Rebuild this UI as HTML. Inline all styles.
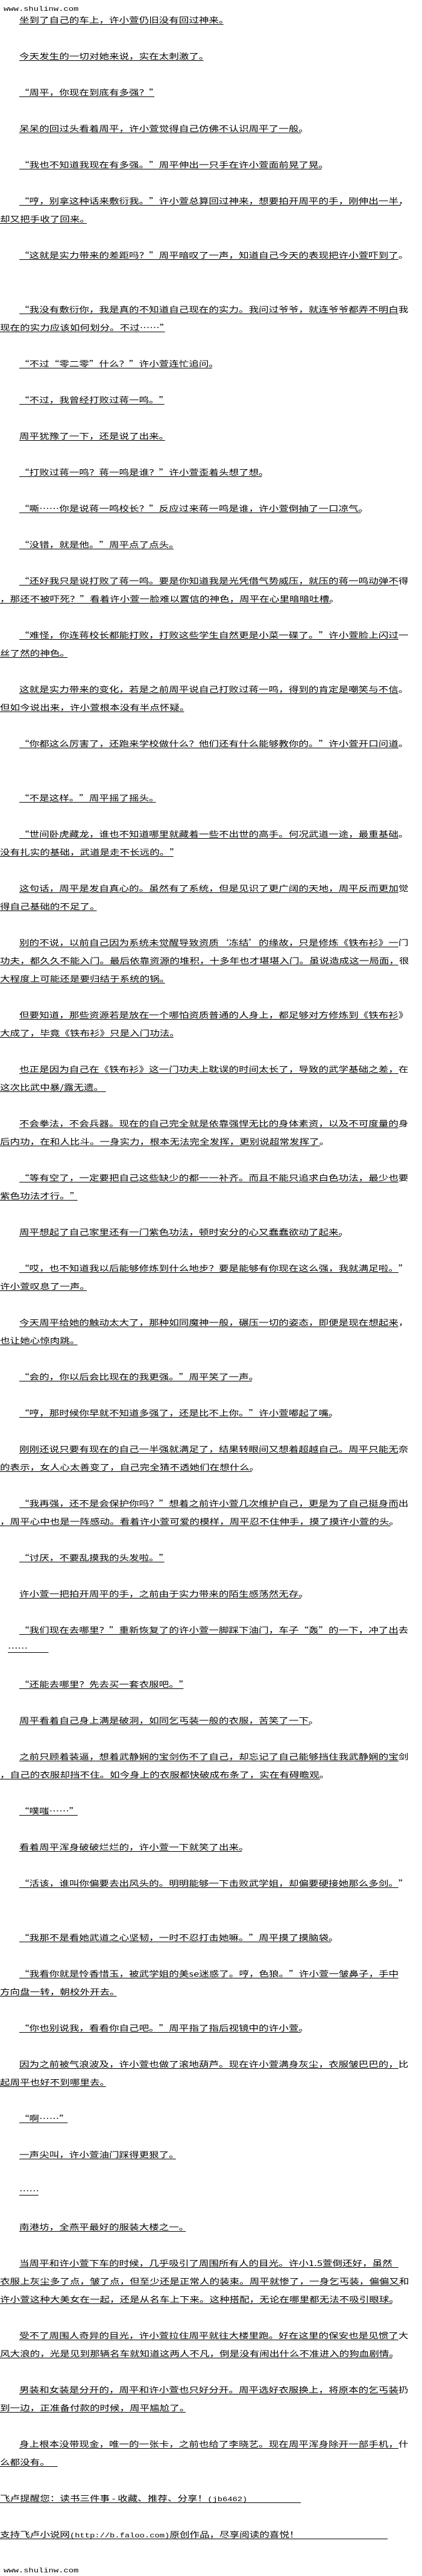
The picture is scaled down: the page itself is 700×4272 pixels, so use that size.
<!DOCTYPE html>
<html lang="zh-CN">
<head>
<meta charset="utf-8">
<title>page</title>
<style>
html,body{margin:0;padding:0;background:#fff}
body{position:relative;width:700px;height:4272px;overflow:hidden;color:#000;font-family:"Noto Sans CJK SC","WenQuanYi Zen Hei",sans-serif}
.l{position:absolute;left:0;top:calc(24px + 30px*var(--n));height:20px;line-height:18px;font-size:13px;white-space:pre;text-spacing-trim:space-all;font-kerning:none;transform:scaleX(1.273);transform-origin:0 0}
.i{left:32px}
.l::after{content:"";position:absolute;left:0;top:16px;height:1px;width:calc(var(--w)/1.273);background:#000}
.h{position:absolute;left:6px;font:11px/16px "Liberation Mono",monospace;white-space:pre;transform:scaleX(1.255);transform-origin:0 0}
.m{font-family:"Liberation Mono",monospace;font-size:10.83px}
</style>
</head>
<body>
<div class="h" style="top:8px">www.shulinw.com</div>
<div class="l i" style="--n:0;--w:338px">坐到了自己的车上，许小萱仍旧没有回过神来。</div>
<div class="l i" style="--n:2;--w:305px">今天发生的一切对她来说，实在太刺激了。</div>
<div class="l i" style="--n:4;--w:224px">“周平，你现在到底有多强？”</div>
<div class="l i" style="--n:6;--w:467px">呆呆的回过头看着周平，许小萱觉得自己仿佛不认识周平了一般。</div>
<div class="l i" style="--n:8;--w:501px">“我也不知道我现在有多强。”周平伸出一只手在许小萱面前晃了晃。</div>
<div class="l i" style="--n:10;--w:633px">“哼，别拿这种话来敷衍我。”许小萱总算回过神来，想要拍开周平的手，刚伸出一半，</div>
<div class="l" style="--n:11;--w:144px">却又把手收了回来。</div>
<div class="l i" style="--n:13;--w:629px">“这就是实力带来的差距吗？”周平暗叹了一声，知道自己今天的表现把许小萱吓到了。</div>
<div class="l i" style="--n:16;--w:629px">“我没有敷衍你，我是真的不知道自己现在的实力。我问过爷爷，就连爷爷都弄不明白我</div>
<div class="l" style="--n:17;--w:274px">现在的实力应该如何划分。不过……”</div>
<div class="l i" style="--n:19;--w:319px">“不过“零二零”什么？”许小萱连忙追问。</div>
<div class="l i" style="--n:21;--w:241px">“不过，我曾经打败过蒋一鸣。”</div>
<div class="l i" style="--n:23;--w:242px">周平犹豫了一下，还是说了出来。</div>
<div class="l i" style="--n:25;--w:402px">“打败过蒋一鸣？蒋一鸣是谁？”许小萱歪着头想了想。</div>
<div class="l i" style="--n:27;--w:566px">“嘶……你是说蒋一鸣校长？”反应过来蒋一鸣是谁，许小萱倒抽了一口凉气。</div>
<div class="l i" style="--n:29;--w:256px">“没错，就是他。”周平点了点头。</div>
<div class="l i" style="--n:31;--w:629px">“还好我只是说打败了蒋一鸣。要是你知道我是光凭借气势威压，就压的蒋一鸣动弹不得</div>
<div class="l" style="--n:32;--w:549px">，那还不被吓死？”看着许小萱一脸难以置信的神色，周平在心里暗暗吐槽。</div>
<div class="l i" style="--n:34;--w:629px">“难怪，你连蒋校长都能打败，打败这些学生自然更是小菜一碟了。”许小萱脸上闪过一</div>
<div class="l" style="--n:35;--w:112px">丝了然的神色。</div>
<div class="l i" style="--n:37;--w:629px">这就是实力带来的变化，若是之前周平说自己打败过蒋一鸣，得到的肯定是嘲笑与不信。</div>
<div class="l" style="--n:38;--w:306px">但如今说出来，许小萱根本没有半点怀疑。</div>
<div class="l i" style="--n:40;--w:629px">“你都这么厉害了，还跑来学校做什么？他们还有什么能够教你的。”许小萱开口问道。</div>
<div class="l i" style="--n:43;--w:227px">“不是这样。”周平摇了摇头。</div>
<div class="l i" style="--n:45;--w:629px">“世间卧虎藏龙，谁也不知道哪里就藏着一些不出世的高手。何况武道一途，最重基础。</div>
<div class="l" style="--n:46;--w:288px">没有扎实的基础，武道是走不长远的。”</div>
<div class="l i" style="--n:48;--w:629px">这句话，周平是发自真心的。虽然有了系统，但是见识了更广阔的天地，周平反而更加觉</div>
<div class="l" style="--n:49;--w:160px">得自己基础的不足了。</div>
<div class="l i" style="--n:51;--w:629px">别的不说，以前自己因为系统未觉醒导致资质‘冻结’的缘故，只是修炼《铁布衫》一门</div>
<div class="l" style="--n:52;--w:661px">功夫，都久久不能入门。最后依靠资源的堆积，十多年也才堪堪入门。虽说造成这一局面，很</div>
<div class="l" style="--n:53;--w:274px">大程度上可能还是要归结于系统的锅。</div>
<div class="l i" style="--n:55;--w:629px">但要知道，那些资源若是放在一个哪怕资质普通的人身上，都足够对方修炼到《铁布衫》</div>
<div class="l" style="--n:56;--w:288px">大成了，毕竟《铁布衫》只是入门功法。</div>
<div class="l i" style="--n:58;--w:629px">也正是因为自己在《铁布衫》这一门功夫上耽误的时间太长了，导致的武学基础之差，在</div>
<div class="l" style="--n:59;--w:176px">这次比武中暴/露无遗。</div>
<div class="l i" style="--n:61;--w:629px">不会拳法，不会兵器。现在的自己完全就是依靠强悍无比的身体素资，以及不可度量的身</div>
<div class="l" style="--n:62;--w:531px">后内功，在和人比斗。一身实力，根本无法完全发挥，更别说超常发挥了。</div>
<div class="l i" style="--n:64;--w:629px">“等有空了，一定要把自己这些缺少的都一一补齐。而且不能只追求白色功法，最少也要</div>
<div class="l" style="--n:65;--w:129px">紫色功法才行。”</div>
<div class="l i" style="--n:67;--w:533px">周平想起了自己家里还有一门紫色功法，顿时安分的心又蠢蠢欲动了起来。</div>
<div class="l i" style="--n:69;--w:629px">“哎，也不知道我以后能够修炼到什么地步？要是能够有你现在这么强，我就满足啦。”</div>
<div class="l" style="--n:70;--w:144px">许小萱叹息了一声。</div>
<div class="l i" style="--n:72;--w:629px">今天周平给她的触动太大了，那种如同魔神一般，碾压一切的姿态，即便是现在想起来，</div>
<div class="l" style="--n:73;--w:129px">也让她心惊肉跳。</div>
<div class="l i" style="--n:75;--w:386px">“会的，你以后会比现在的我更强。”周平笑了一声。</div>
<div class="l i" style="--n:77;--w:517px">“哼，那时候你早就不知道多强了，还是比不上你。”许小萱嘟起了嘴。</div>
<div class="l i" style="--n:79;--w:629px">刚刚还说只要有现在的自己一半强就满足了，结果转眼间又想着超越自己。周平只能无奈</div>
<div class="l" style="--n:80;--w:418px">的表示，女人心太善变了，自己完全猜不透她们在想什么。</div>
<div class="l i" style="--n:82;--w:629px">“我再强，还不是会保护你吗？”想着之前许小萱几次维护自己，更是为了自己挺身而出</div>
<div class="l" style="--n:83;--w:648px">，周平心中也是一阵感动。看着许小萱可爱的模样，周平忍不住伸手，摸了摸许小萱的头。</div>
<div class="l i" style="--n:85;--w:241px">“讨厌，不要乱摸我的头发啦。”</div>
<div class="l i" style="--n:87;--w:467px">许小萱一把拍开周平的手，之前由于实力带来的陌生感荡然无存。</div>
<div class="l i" style="--n:89;--w:629px">“我们现在去哪里？”重新恢复了的许小萱一脚踩下油门，车子“轰”的一下，冲了出去</div>
<div class="l" style="--n:90;--w:67px;left:13px">……</div>
<div class="l i" style="--n:92;--w:273px">“还能去哪里？先去买一套衣服吧。”</div>
<div class="l i" style="--n:94;--w:483px">周平看着自己身上满是破洞，如同乞丐装一般的衣服，苦笑了一下。</div>
<div class="l i" style="--n:96;--w:629px">之前只顾着装逼，想着武静娴的宝剑伤不了自己，却忘记了自己能够挡住我武静娴的宝剑</div>
<div class="l" style="--n:97;--w:531px">，自己的衣服却挡不住。如今身上的衣服都快破成布条了，实在有碍瞻观。</div>
<div class="l i" style="--n:99;--w:97px">“噗嗤……”</div>
<div class="l i" style="--n:101;--w:369px">看着周平浑身破破烂烂的，许小萱一下就笑了出来。</div>
<div class="l i" style="--n:103;--w:629px">“活该，谁叫你偏要去出风头的。明明能够一下击败武学姐，却偏要硬接她那么多剑。”</div>
<div class="l i" style="--n:106;--w:517px">“我那不是看她武道之心坚韧，一时不忍打击她嘛。”周平摸了摸脑袋。</div>
<div class="l i" style="--n:108;--w:629px">“我看你就是怜香惜玉，被武学姐的美se迷惑了。哼，色狼。”许小萱一皱鼻子，手中</div>
<div class="l" style="--n:109;--w:193px">方向盘一转，朝校外开去。</div>
<div class="l i" style="--n:111;--w:467px">“你也别说我，看看你自己吧。”周平指了指后视镜中的许小萱。</div>
<div class="l i" style="--n:113;--w:629px">因为之前被气浪波及，许小萱也做了滚地葫芦。现在许小萱满身灰尘，衣服皱巴巴的，比</div>
<div class="l" style="--n:114;--w:176px">起周平也好不到哪里去。</div>
<div class="l i" style="--n:116;--w:80px">“啊……”</div>
<div class="l i" style="--n:118;--w:260px">一声尖叫，许小萱油门踩得更狠了。</div>
<div class="l i" style="--n:120;--w:32px">……</div>
<div class="l i" style="--n:122;--w:276px">南港坊，全燕平最好的服装大楼之一。</div>
<div class="l i" style="--n:124;--w:629px">当周平和许小萱下车的时候，几乎吸引了周围所有人的目光。许小1.5萱倒还好，虽然</div>
<div class="l" style="--n:125;--w:665px">衣服上灰尘多了点，皱了点，但至少还是正常人的装束。周平就惨了，一身乞丐装，偏偏又和</div>
<div class="l" style="--n:126;--w:650px">许小萱这种大美女在一起，还是从名车上下来。这种搭配，无论在哪里都无法不吸引眼球。</div>
<div class="l i" style="--n:128;--w:629px">受不了周围人奇异的目光，许小萱拉住周平就往大楼里跑。好在这里的保安也是见惯了大</div>
<div class="l" style="--n:129;--w:650px">风大浪的，光是见到那辆名车就知道这两人不凡，倒是没有闹出什么不准进入的狗血剧情。</div>
<div class="l i" style="--n:131;--w:629px">男装和女装是分开的，周平和许小萱也只好分开。周平选好衣服换上，将原本的乞丐装扔</div>
<div class="l" style="--n:132;--w:308px">到一边，正准备付款的时候，周平尴尬了。</div>
<div class="l i" style="--n:134;--w:629px">身上根本没带现金，唯一的一张卡，之前也给了李晓艺。现在周平浑身除开一部手机，什</div>
<div class="l" style="--n:135;--w:95px">么都没有。</div>
<div class="l" style="--n:137;--w:499px">飞卢提醒您：读书三件事 - 收藏、推荐、分享！<span class="m">(jb6462)</span></div>
<div class="l" style="--n:139;--w:643px">支持飞卢小说网<span class="m">(http://b.faloo.com)</span>原创作品，尽享阅读的喜悦！</div>
<div class="h" style="top:4256px">www.shulinw.com</div>
</body>
</html>
